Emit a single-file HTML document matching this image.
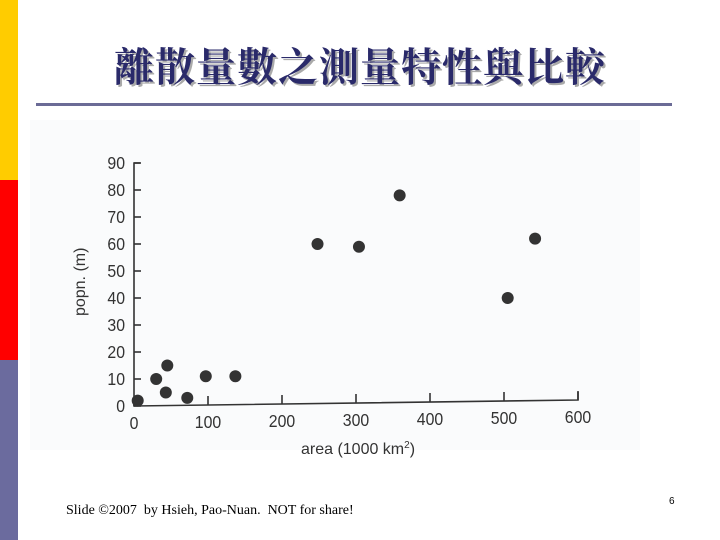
<!DOCTYPE html>
<html><head><meta charset="utf-8"><style>
body{margin:0;width:720px;height:540px;background:#fff;position:relative;overflow:hidden;font-family:"Liberation Sans",sans-serif}
.bar{position:absolute;left:0;width:18px}
</style></head><body>
<div class="bar" style="top:0;height:180px;background:#ffcc00"></div>
<div class="bar" style="top:180px;height:180px;background:#ff0000"></div>
<div class="bar" style="top:360px;height:180px;background:#6b6b9e"></div>
<div style="position:absolute;left:0;width:720px;top:36px;text-align:center;font-family:'Liberation Serif','Noto Serif CJK SC',serif;font-weight:bold;font-size:40px;color:#2a2a6a;text-shadow:2px 2px 0 #aaaaaa;letter-spacing:1px">離散量數之測量特性與比較</div>
<div style="position:absolute;left:36px;top:103px;width:636px;height:3px;background:#6b6b96"></div>
<div style="position:absolute;left:30px;top:120px;width:610px;height:330px;background:#fafbfc"></div>
<svg width="720" height="540" style="position:absolute;left:0;top:0">
<g id="chart"></g>
</svg>
<div style="position:absolute;left:66px;top:503px;font-family:'Liberation Serif',serif;font-size:14px;color:#000">Slide ©2007&nbsp; by Hsieh, Pao-Nuan.&nbsp; NOT for share!</div>
<div style="position:absolute;left:669px;top:496px;font-size:10px;color:#000">6</div>
<script>
const xs=[5,30,43,45,72,97,137,248,304,359,505,542];
const ys=[2,10,5,15,3,11,11,60,59,78,40,62];
const xTicks=[0,100,200,300,400,500,600];
const yTicks=[0,10,20,30,40,50,60,70,80,90];
const X=v=>134+v*0.74, Y=v=>406-v*2.7;
const tilt=v=>-v*0.01; // scanned axis tilt along x
const g=document.getElementById('chart');const NS='http://www.w3.org/2000/svg';
function mk(t,a){const e=document.createElementNS(NS,t);for(const k in a)e.setAttribute(k,a[k]);g.appendChild(e);return e;}
let e=mk('path',{d:`M${X(0)+6} ${Y(90)}H${X(0)}V${Y(0)}L${X(600)} ${Y(0)+tilt(600)}V${Y(0)+tilt(600)-8}`,fill:'none',stroke:'#333','stroke-width':1.6});

yTicks.forEach(v=>{const l=mk('line',{x1:X(0),x2:X(0)+7,y1:Y(v),y2:Y(v),stroke:'#333','stroke-width':1.6});

const t=mk('text',{x:X(0)-9,y:Y(v)+6,'text-anchor':'end','font-size':18,fill:'#333',transform:`scale(0.88 1) translate(${(X(0)-9)*0.1364} 0)`});t.textContent=v;
});
xTicks.forEach(v=>{const yb=Y(0)+tilt(v);const l=mk('line',{x1:X(v),x2:X(v),y1:yb,y2:yb-9,stroke:'#333','stroke-width':1.6});

const t=mk('text',{x:X(v),y:yb+23,'text-anchor':'middle','font-size':18,fill:'#333',transform:`scale(0.88 1) translate(${X(v)*0.1364} 0)`});t.textContent=v;
});
xs.forEach((x,i)=>{const c=mk('circle',{cx:X(x),cy:Y(ys[i]),r:6,fill:'#333'});
});
const xt=mk('text',{x:X(300)+2,y:Y(0)+48,'text-anchor':'middle','font-size':16,fill:'#333'});
xt.innerHTML='area (1000 km<tspan dy="-6" font-size="10">2</tspan><tspan dy="6">)</tspan>';

const yt=mk('text',{x:0,y:0,'text-anchor':'middle','font-size':16,fill:'#333',transform:`translate(${X(0)-49} ${Y(46)}) rotate(-90)`});
yt.textContent='popn. (m)';

</script>
</body></html>
